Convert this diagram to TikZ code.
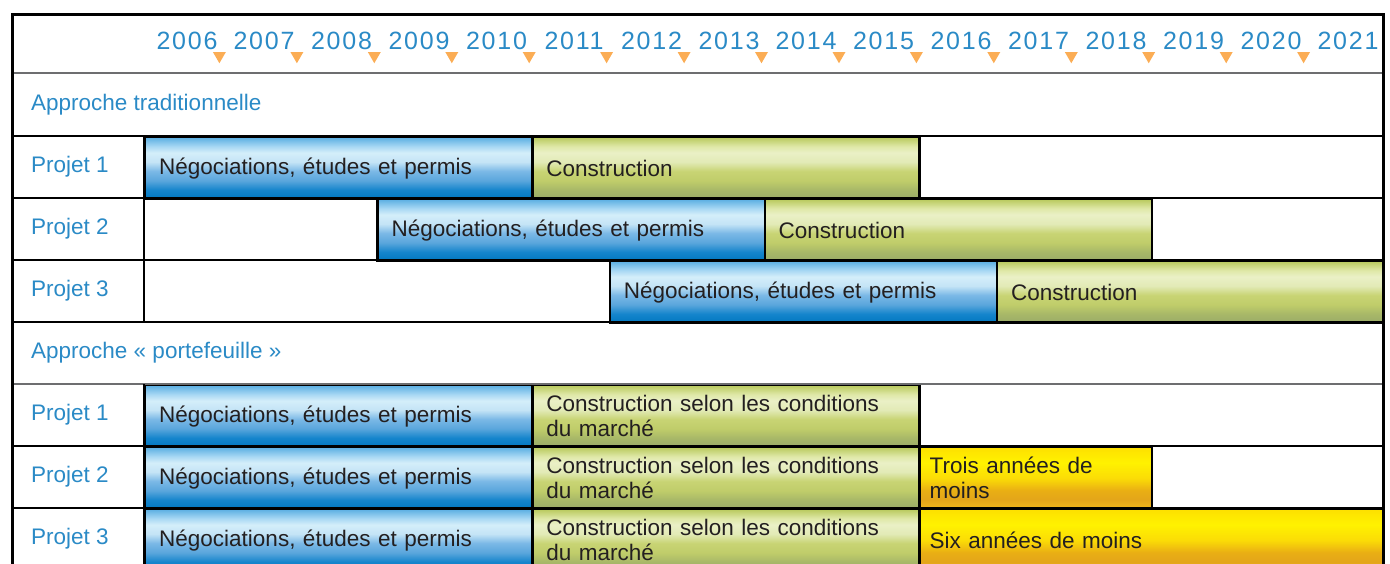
\documentclass[tikz,border=0pt]{standalone}
\usepackage{fontspec}
\setmainfont{Liberation Sans}
\usepackage{xcolor}
\usetikzlibrary{shapes.geometric}
\definecolor{labblue}{HTML}{2A8AC6}
\definecolor{tickorange}{HTML}{FBAD55}
\definecolor{bartext}{HTML}{231F20}
\definecolor{rulegrey}{HTML}{6D6E70}
% blue bar, bottom to top
\definecolor{negA}{HTML}{0077C0}
\definecolor{negB}{HTML}{1585CC}
\definecolor{negC}{HTML}{5AA6DC}
\definecolor{negD}{HTML}{7AB8E6}
\definecolor{negE}{HTML}{C4E4F6}
\definecolor{negF}{HTML}{D4EEFA}
\definecolor{negG}{HTML}{A8D8F4}
\definecolor{negH}{HTML}{5AAEE2}
% green bar
\definecolor{conA}{HTML}{9AAB68}
\definecolor{conB}{HTML}{A8B868}
\definecolor{conC}{HTML}{C0CD6A}
\definecolor{conD}{HTML}{C8D474}
\definecolor{conE}{HTML}{E2EAB6}
\definecolor{conF}{HTML}{EAF0C6}
\definecolor{conG}{HTML}{DFE8A8}
\definecolor{conH}{HTML}{B8C95C}
% yellow bar
\definecolor{gainA}{HTML}{F0B81C}
\definecolor{gainB}{HTML}{E3A51A}
\definecolor{gainC}{HTML}{E9AE14}
\definecolor{gainD}{HTML}{FBDC06}
\definecolor{gainE}{HTML}{FFF200}
\definecolor{gainF}{HTML}{FDE000}
\pgfdeclareverticalshading{negshade}{100bp}{color(0bp)=(negA); color(25bp)=(negA); color(32.5bp)=(negB); color(40bp)=(negC); color(47.5bp)=(negD); color(55bp)=(negE); color(62.5bp)=(negF); color(67.5bp)=(negG); color(75bp)=(negH); color(100bp)=(negH)}
\pgfdeclareverticalshading{conshade}{100bp}{color(0bp)=(conA); color(25bp)=(conA); color(32.5bp)=(conB); color(40bp)=(conC); color(47.5bp)=(conD); color(55bp)=(conE); color(62.5bp)=(conF); color(67.5bp)=(conG); color(75bp)=(conH); color(100bp)=(conH)}
\pgfdeclareverticalshading{gainshade}{100bp}{color(0bp)=(gainA); color(25bp)=(gainA); color(32.5bp)=(gainB); color(40bp)=(gainC); color(50bp)=(gainD); color(62.5bp)=(gainE); color(75bp)=(gainF); color(100bp)=(gainF)}
\tikzstyle{yearlab} = [text=labblue, inner sep=0pt, font=\fontsize{25}{30}\selectfont\addfontfeature{LetterSpace=7}]
\tikzstyle{yeartick} = [regular polygon, regular polygon sides=3, shape border rotate=180, fill=tickorange, minimum size=15pt, inner sep=0pt]
\tikzstyle{rowlab} = [anchor=west, text=labblue, inner sep=0pt, font=\fontsize{22.5}{25}\selectfont]
\tikzstyle{bar} = [anchor=north west, draw=black, line width=2.4pt, minimum height=62pt, inner xsep=14pt, inner ysep=0pt, align=left, text=bartext, font=\fontsize{22.5}{25}\selectfont]
\tikzstyle{negbar} = [bar, shading=negshade, minimum width=387.2pt, text width=359.2pt]
\tikzstyle{conbar} = [bar, shading=conshade, minimum width=387.2pt, text width=359.2pt]
\tikzstyle{gainbar} = [bar, shading=gainshade, inner xsep=10pt]
\tikzstyle{rule} = [line width=2.4pt, draw=black]

\begin{document}
\begin{tikzpicture}[x=1pt, y=-1pt]
    \useasboundingbox (0,0) rectangle (1390,563);
    \clip (0,0) rectangle (1390,563);

    % years
    \node (y2006) [yearlab] at (187,41) {2006};
    \node (y2007) [yearlab] at (264,41) {2007};
    \node (y2008) [yearlab] at (341.5,41) {2008};
    \node (y2009) [yearlab] at (419,41) {2009};
    \node (y2010) [yearlab] at (496.5,41) {2010};
    \node (y2011) [yearlab] at (574,41) {2011};
    \node (y2012) [yearlab] at (651.5,41) {2012};
    \node (y2013) [yearlab] at (729,41) {2013};
    \node (y2014) [yearlab] at (806,41) {2014};
    \node (y2015) [yearlab] at (883.5,41) {2015};
    \node (y2016) [yearlab] at (961,41) {2016};
    \node (y2017) [yearlab] at (1038.5,41) {2017};
    \node (y2018) [yearlab] at (1116,41) {2018};
    \node (y2019) [yearlab] at (1193.5,41) {2019};
    \node (y2020) [yearlab] at (1271,41) {2020};
    \node (y2021) [yearlab] at (1348,41) {2021};

    \node (t1) [yeartick] at (219.4,55.75) {};
    \node (t2) [yeartick] at (296.9,55.75) {};
    \node (t3) [yeartick] at (374.3,55.75) {};
    \node (t4) [yeartick] at (451.8,55.75) {};
    \node (t5) [yeartick] at (529.2,55.75) {};
    \node (t6) [yeartick] at (606.6,55.75) {};
    \node (t7) [yeartick] at (684.1,55.75) {};
    \node (t8) [yeartick] at (761.5,55.75) {};
    \node (t9) [yeartick] at (839,55.75) {};
    \node (t10) [yeartick] at (916.4,55.75) {};
    \node (t11) [yeartick] at (993.8,55.75) {};
    \node (t12) [yeartick] at (1071.3,55.75) {};
    \node (t13) [yeartick] at (1148.7,55.75) {};
    \node (t14) [yeartick] at (1226.2,55.75) {};
    \node (t15) [yeartick] at (1303.6,55.75) {};

    % approche traditionnelle
    \node (trad) [rowlab] at (31,104.5) {Approche traditionnelle};
    \node (tradp1) [rowlab] at (31,167) {Projet 1};
    \node (tradp2) [rowlab] at (31,229) {Projet 2};
    \node (tradp3) [rowlab] at (31,291) {Projet 3};

    \node (tradneg1) [negbar] at (144,136) {Négociations, études et permis};
    \node (tradcon1) [conbar] at (531.2,136) {Construction};
    \node (tradneg2) [negbar] at (376.32,198) {Négociations, études et permis};
    \node (tradcon2) [conbar] at (763.52,198) {Construction};
    \node (tradneg3) [negbar] at (608.64,260) {Négociations, études et permis};
    \node (tradcon3) [conbar] at (995.84,260) {Construction};

    % approche portefeuille
    \node (port) [rowlab] at (31,353) {Approche « portefeuille »};
    \node (portp1) [rowlab] at (31,415) {Projet 1};
    \node (portp2) [rowlab] at (31,477) {Projet 2};
    \node (portp3) [rowlab] at (31,539) {Projet 3};

    \node (portneg1) [negbar] at (144,384) {Négociations, études et permis};
    \node (portcon1) [conbar] at (531.2,384) {Construction selon les conditions\\du marché};
    \node (portneg2) [negbar] at (144,446) {Négociations, études et permis};
    \node (portcon2) [conbar] at (531.2,446) {Construction selon les conditions\\du marché};
    \node (portgain2) [gainbar, minimum width=232.32pt, text width=212.32pt] at (918.4,446) {Trois années de\\moins};
    \node (portneg3) [negbar] at (144,508) {Négociations, études et permis};
    \node (portcon3) [conbar] at (531.2,508) {Construction selon les conditions\\du marché};
    \node (portgain3) [gainbar, minimum width=464.64pt, text width=444.64pt] at (918.4,508) {Six années de moins};

    % table rules
    \draw [rule, draw=rulegrey] (12,73) -- (1383,73);
    \draw [rule] (12,136) -- (1383,136);
    \draw [rule] (12,198) -- (1383,198);
    \draw [rule] (12,260) -- (1383,260);
    \draw [rule] (12,322) -- (1383,322);
    \draw [rule, draw=rulegrey] (12,384) -- (1383,384);
    \draw [rule] (12,446) -- (1383,446);
    \draw [rule] (12,508) -- (1383,508);
    \draw [rule] (144,136) -- (144,322);
    \draw [rule] (144,384) -- (144,570);
    \draw [line width=3pt] (12,14) rectangle (1383,570);

  \end{tikzpicture}
\end{document}
